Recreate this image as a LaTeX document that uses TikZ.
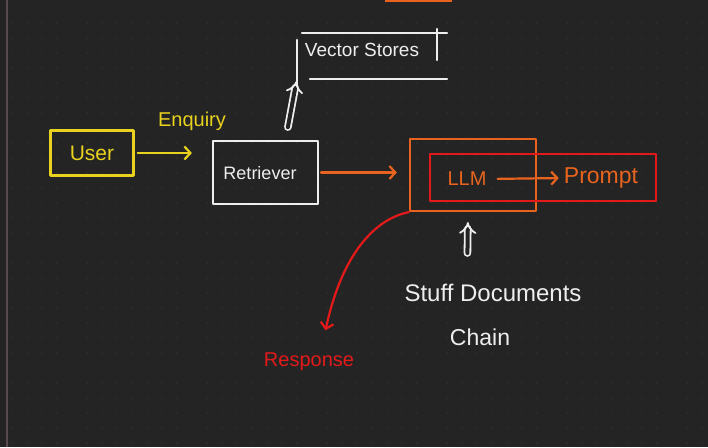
\documentclass[tikz,border=0pt]{standalone}
\usepackage{fontspec}
\setmainfont{Liberation Sans}
\usetikzlibrary{arrows.meta}
\definecolor{bg}{RGB}{36,36,36}
\definecolor{dotc}{RGB}{62,62,62}
\definecolor{hyel}{RGB}{232,210,30}
\definecolor{hora}{RGB}{232,100,30}
\definecolor{hred}{RGB}{228,26,26}
\definecolor{hwht}{RGB}{238,238,238}
\definecolor{edgec}{RGB}{90,72,80}
\begin{document}
\begin{tikzpicture}[x=1pt,y=-1pt,
  pen/.style={line width=2.2pt, line cap=round, line join=round},
  boxy/.style={pen, draw, minimum width=#1, inner sep=0pt},
  txt/.style={font=\fontsize{#1}{#1}\selectfont, inner sep=1pt},
  barb/.style={-{Straight Barb[length=6pt,width=13pt,line width=2.2pt]}},
  dbl/.style={line width=1.8pt, line cap=round, double=bg, double distance=4pt, -{Implies[length=5pt]}}]
% background and margins
\fill[bg] (0,0) rectangle (708,447);
\useasboundingbox (0,0) rectangle (708,447);
\foreach \i in {0,...,47} \foreach \j in {0,...,29}
  \fill[dotc] (15*\i+12,15*\j+8) circle (0.6);
\draw[edgec, line width=1.2pt] (7,0) -- (7,447);
\draw[hora, line width=2.4pt] (385,1) -- (452,1);
% nodes
\node[boxy=83pt, minimum height=45pt, hyel] (user) at (92,153) {};
\node[txt=21, hyel] at (user) {User};
\node[boxy=105pt, minimum height=63pt, hwht] (retr) at (265.5,172.5) {};
\node[txt=18, hwht] at (260,173) {Retriever};
\node[minimum width=150pt, minimum height=46pt, inner sep=0pt] (vs) at (372,56) {};
\node[txt=19, hwht] at (362,50) {Vector Stores};
\draw[pen, hwht] (302,33) -- (447,33);
\draw[pen, hwht] (437,29) -- (437,60);
\draw[pen, hwht] (297,40) -- (297,88);
\draw[pen, hwht] (310,79) -- (447,79);
\node[boxy=126pt, minimum height=72pt, hora] (chain) at (473,175) {};
\node[boxy=226pt, minimum height=47pt, hred] (red) at (543,177.5) {};
\node[txt=20, hora] (llm) at (467,179) {LLM};
\node[txt=23, hora] (prompt) at (601,178) {Prompt};
\node[txt=20, hyel] (enq) at (192,121) {Enquiry};
\node[txt=20, hred] (resp) at (309,362) {Response};
\node[txt=24, hwht] (sdc) at (493,293) {Stuff Documents};
\node[txt=23, hwht] (chn) at (480,337) {Chain};
% connectors
\draw[pen, hyel, barb, shorten <=3pt, shorten >=20pt] (user.east) -- (retr.west |- user.east);
\draw[pen, hora, barb, shorten <=2pt, shorten >=12pt] (retr.east) -- (chain.west |- retr.east);
\draw[pen, hora, barb, shorten <=10pt, shorten >=4pt] (llm.east) -- (prompt.west);
\draw[dbl, hwht, shorten <=13pt, shorten >=2pt] ([xshift=20pt]retr.north) -- (vs.south west);
\draw[dbl, hwht, shorten <=30pt, shorten >=10pt] (sdc.north -| 467,0) -- (chain.south -| 468,0);
\draw[pen, hred, barb, shorten >=22pt] (chain.south west) .. controls (370,220) and (340,262) .. ([xshift=12pt]resp.north);
\end{tikzpicture}
\end{document}
